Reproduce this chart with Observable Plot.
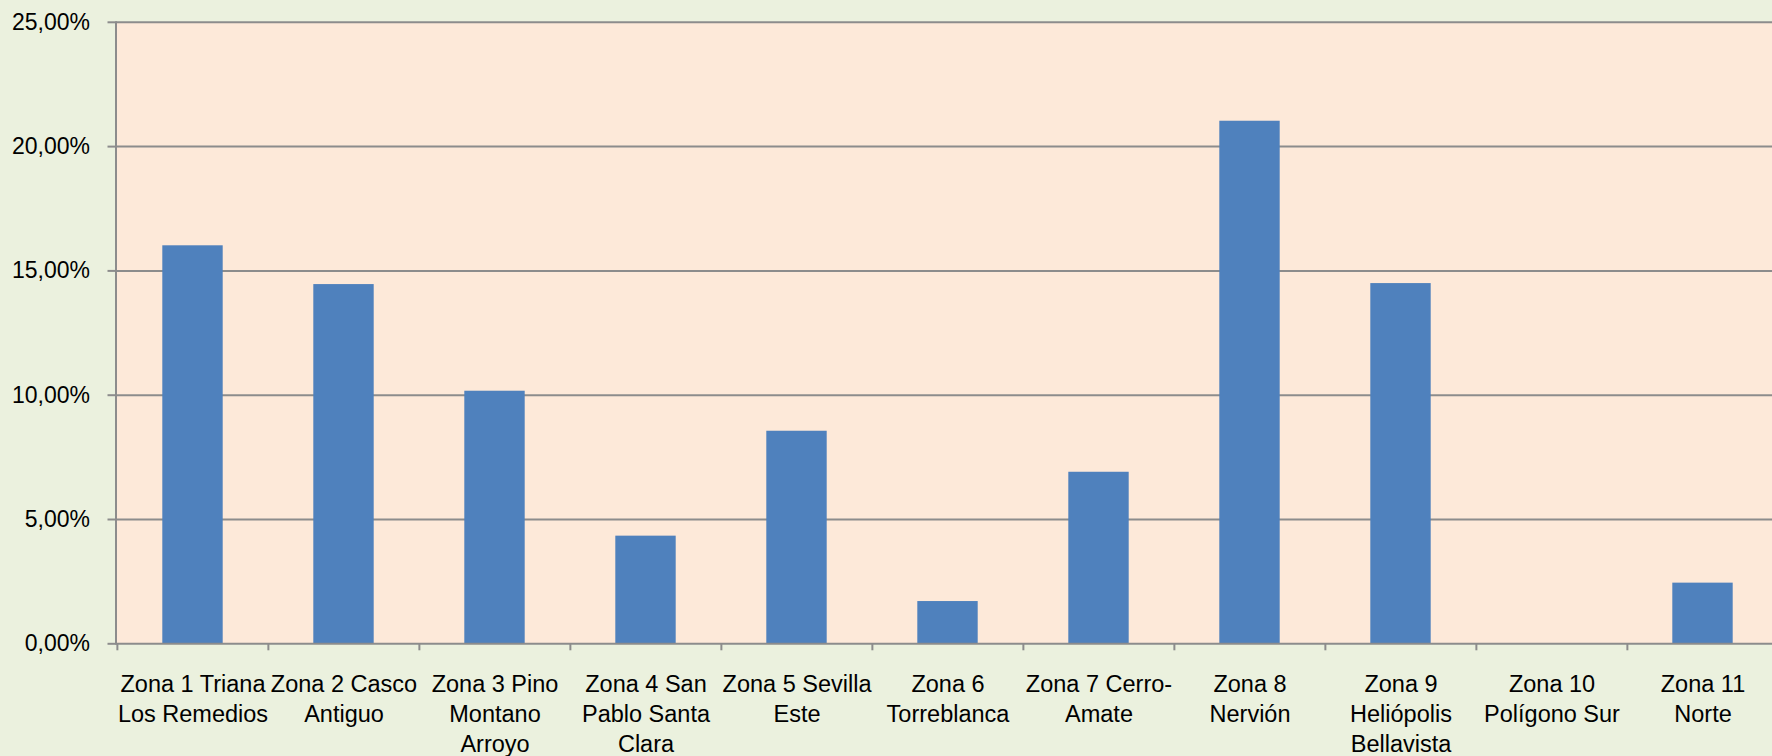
<!DOCTYPE html>
<html>
<head>
<meta charset="utf-8">
<script src="https://cdn.jsdelivr.net/npm/d3@7"></script>
<script src="https://cdn.jsdelivr.net/npm/@observablehq/plot@0.6"></script>
<style>
  html, body { margin: 0; padding: 0; background: #EBF1DE; overflow: hidden; }
  #chart { width: 1772px; height: 756px; overflow: hidden; }
</style>
</head>
<body>
<div id="chart"></div>
<script>
const categories = ["Zona 1", "Zona 2", "Zona 3", "Zona 4", "Zona 5", "Zona 6", "Zona 7", "Zona 8", "Zona 9", "Zona 10", "Zona 11"];
const tickLabels = [
  "Zona 1 Triana\nLos Remedios",
  "Zona 2 Casco\nAntiguo",
  "Zona 3 Pino\nMontano\nArroyo",
  "Zona 4 San\nPablo Santa\nClara",
  "Zona 5 Sevilla\nEste",
  "Zona 6\nTorreblanca",
  "Zona 7 Cerro-\nAmate",
  "Zona 8\nNervión",
  "Zona 9\nHeliópolis\nBellavista",
  "Zona 10\nPolígono Sur",
  "Zona 11\nNorte"
];
const values = [16.01, 14.45, 10.16, 4.33, 8.55, 1.70, 6.90, 21.02, 14.49, 0, 2.44];
const yTicks = [0, 5, 10, 15, 20, 25];

const data = categories.map((c, i) => ({zone: c, value: values[i]}));
const labelOf = new Map(categories.map((c, i) => [c, tickLabels[i]]));
const fmt = d => d.toFixed(2).replace(".", ",") + "%";
const gray = "#8C8C8C";

const chart = Plot.plot({
  width: 1772,
  height: 756,
  marginLeft: 115.5,
  marginRight: -7.25,
  marginTop: 21.8,
  marginBottom: 112.7,
  style: {background: "#EBF1DE", fontFamily: "'Liberation Sans', Arial, sans-serif", color: "#000", overflow: "hidden"},
  x: {domain: categories, padding: 0, label: null},
  y: {domain: [0, 25], label: null},
  marks: [
    Plot.frame({fill: "#FDE9D9", stroke: null}),
    Plot.ruleY(yTicks.slice(1), {stroke: gray, strokeWidth: 2}),
    Plot.barY(data, {x: "zone", y: "value", fill: "#4F81BD", insetLeft: 45.3, insetRight: 45.3}),
    Plot.ruleY([0], {stroke: gray, strokeWidth: 2}),
    Plot.frame({anchor: "left", stroke: gray, strokeWidth: 2}),
    Plot.axisY({ticks: yTicks, tickSize: 8, tickPadding: 18, tickFormat: fmt, stroke: gray, strokeWidth: 2, fontSize: 23, fill: "#000", label: null}),
    Plot.axisX({tickSize: 7, tickFormat: () => "", dx: -75.625, stroke: gray, strokeWidth: 2, label: null}),
    Plot.axisX({tickSize: 0, tickPadding: 27, tickFormat: d => labelOf.get(d), lineHeight: 1.28, fontSize: 23.5, fill: "#000", label: null})
  ]
});
document.getElementById("chart").appendChild(chart);
</script>
</body>
</html>
